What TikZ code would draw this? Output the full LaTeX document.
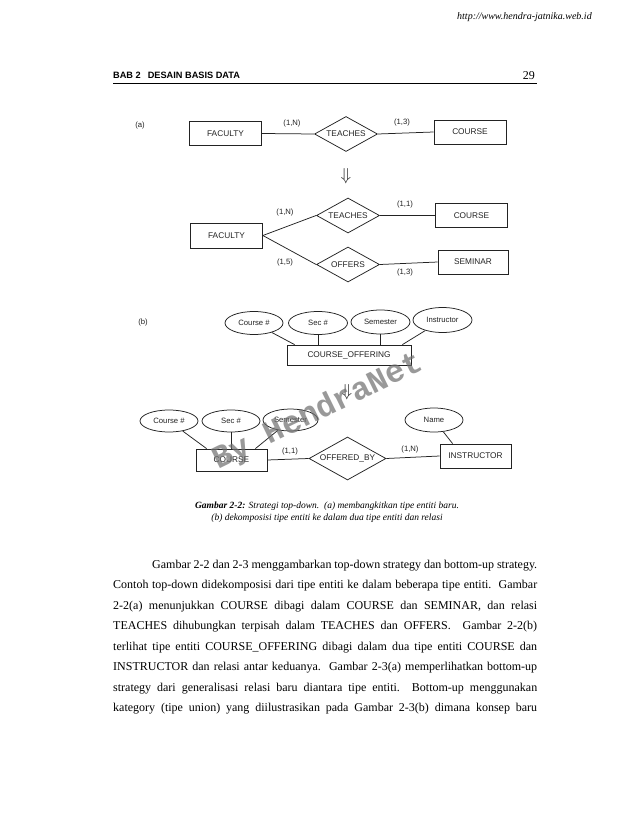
\documentclass[tikz,border=0pt]{standalone}
\usepackage{fontspec}
\setmainfont{Liberation Serif}
\setsansfont{Liberation Sans}
\newfontfamily\markfont{Liberation Mono}
\usetikzlibrary{positioning, calc, shapes.geometric}
\definecolor{inkgray}{RGB}{35,35,35}
\definecolor{markgray}{RGB}{110,110,110}

\begin{document}
\begin{tikzpicture}[
        x=1pt, y=-1pt,
        entity/.style={rectangle, draw=inkgray, line width=0.75pt,
                       minimum width=72pt, minimum height=24pt, inner sep=0pt,
                       font=\sffamily\fontsize{8.3}{9}\selectfont, text=inkgray},
        rel/.style={diamond, aspect=2, draw=inkgray, line width=0.75pt,
                    minimum width=63pt, minimum height=35pt, inner sep=0pt,
                    font=\sffamily\fontsize{8.3}{9}\selectfont, text=inkgray},
        attr/.style={ellipse, draw=inkgray, line width=0.75pt,
                     minimum width=58pt, minimum height=23pt, inner sep=0pt,
                     font=\sffamily\fontsize{7.7}{9}\selectfont, text=inkgray},
        card/.style={font=\sffamily\fontsize{7.7}{9}\selectfont, text=inkgray, inner sep=0pt},
        link/.style={draw=inkgray, line width=0.75pt},
        downsym/.style={inner sep=0pt, text=inkgray, font=\fontsize{19}{19}\selectfont},
        bodyline/.style={anchor=base west, inner sep=0pt, font=\fontsize{12}{14}\selectfont},
        capline/.style={inner sep=0pt, font=\itshape\fontsize{9.5}{11}\selectfont},
    ]
    \useasboundingbox (0,0) rectangle (638,826);
    \fill[white] (0,0) rectangle (638,826);

    % ---- Page header ----
    \node[anchor=base west, inner sep=0pt, font=\itshape\fontsize{10}{12}\selectfont]
        (url) at (457,20) {http://www.hendra-jatnika.web.id};
    \node[anchor=base west, inner sep=0pt, font=\sffamily\bfseries\fontsize{9.2}{11}\selectfont]
        (chapter) at (113,79) {BAB 2\hspace{7pt}DESAIN BASIS DATA};
    \node[anchor=base east, inner sep=0pt, font=\fontsize{12}{14}\selectfont]
        (pagenum) at (535,80) {29};
    \coordinate (ruleL) at (113,83);
    \coordinate (ruleR) at (537,83);
    \draw[line width=0.8pt] (ruleL) -- (ruleR);

    % ---- (a) one relationship ----
    \node[card] (tagA) at (140,126) {(a)};
    \node[entity] (FAC1) at (225.5,133.5) {FACULTY};
    \node[rel] (TEA1) at (346,134) {TEACHES};
    \node[entity] (CRS1) at (470,132) {COURSE};
    \draw[link] (FAC1.east) -- (TEA1.west);
    \draw[link] (TEA1.east) -- (CRS1.west);
    \node[card] (c1) at (292,124) {(1,N)};
    \node[card] (c2) at (402,123) {(1,3)};

    \node[downsym] (DOWN1) at (346,176) {$\Downarrow$};

    % ---- (a) split into two relationships ----
    \node[rel] (TEA2) at (348,215.5) {TEACHES};
    \node[entity] (CRS2) at (471.5,215.5) {COURSE};
    \node[entity, minimum height=25pt] (FAC2) at (226.5,235.5) {FACULTY};
    \node[rel] (OFF) at (348,264.5) {OFFERS};
    \node[entity, minimum width=70pt] (SEM) at (473,262) {SEMINAR};
    \draw[link] (FAC2.east) -- (TEA2.west);
    \draw[link] (FAC2.east) -- (OFF.west);
    \draw[link] (TEA2.east) -- (CRS2.west);
    \draw[link] (OFF.east) -- (SEM.west);
    \node[card] (c3) at (285,213) {(1,N)};
    \node[card] (c4) at (405,205) {(1,1)};
    \node[card] (c5) at (285,263) {(1,5)};
    \node[card] (c6) at (405,273) {(1,3)};

    % ---- (b) COURSE_OFFERING ----
    \node[card] (tagB) at (143,323) {(b)};
    \node[attr] (CNUM1) at (254,323) {Course \#};
    \node[attr, minimum width=59pt] (SEC1) at (318,323) {Sec \#};
    \node[attr, minimum width=59pt, minimum height=24pt] (SMT1) at (380.5,322) {Semester};
    \node[attr, minimum width=59pt, minimum height=25pt] (INS1) at (442.5,320) {Instructor};
    \node[entity, minimum width=124pt, minimum height=20pt] (OFFERING) at (349,355) {COURSE\_OFFERING};
    \draw[link] (CNUM1) -- ([xshift=8pt]OFFERING.north west);
    \draw[link] (SEC1) -- (SEC1 |- OFFERING.north);
    \draw[link] (SMT1) -- (SMT1 |- OFFERING.north);
    \draw[link] (INS1) -- ([xshift=-9pt]OFFERING.north east);

    \node[downsym] (DOWN2) at (347,392) {$\Downarrow$};

    % ---- (b) COURSE -- OFFERED_BY -- INSTRUCTOR ----
    \node[attr, minimum height=22pt] (CNUM2) at (169,421) {Course \#};
    \node[attr, minimum height=22pt] (SEC2) at (231,421) {Sec \#};
    \node[attr, minimum width=55pt, minimum height=22pt] (SMT2) at (290.5,420) {Semester};
    \node[attr, minimum height=24pt] (NAME) at (434,420) {Name};
    \node[entity, minimum width=71pt, minimum height=22pt] (CRS3) at (231.5,460) {COURSE};
    \node[rel, minimum width=77pt, minimum height=43pt] (OBY) at (347.5,458.5) {OFFERED\_BY};
    \node[entity, minimum width=71pt] (INSTR) at (475.5,456) {INSTRUCTOR};
    \draw[link] (CNUM2) -- ([xshift=11pt]CRS3.north west);
    \draw[link] (SEC2) -- (SEC2 |- CRS3.north);
    \draw[link] (SMT2) -- ([xshift=-12pt]CRS3.north east);
    \draw[link] (NAME) -- ([xshift=13pt]INSTR.north west);
    \draw[link] (CRS3.east) -- (OBY.west);
    \draw[link] (OBY.east) -- (INSTR.west);
    \node[card] (c7) at (290,452) {(1,1)};
    \node[card] (c8) at (410,450) {(1,N)};

    % ---- Caption ----
    \node[capline] (cap1) at (327,506)
        {\textbf{Gambar 2-2:} Strategi top-down.\ \ (a) membangkitkan tipe entiti baru.};
    \node[capline] (cap2) at (327,518)
        {(b) dekomposisi tipe entiti ke dalam dua tipe entiti dan relasi};

    % ---- Body text ----
    \node[bodyline] (body1) at (152,568)
        {\makebox[385pt][s]{Gambar 2-2 dan 2-3 menggambarkan top-down strategy dan bottom-up strategy.}};
    \node[bodyline] (body2) at (113,588.5)
        {\makebox[424pt][s]{Contoh top-down didekomposisi dari tipe entiti ke dalam beberapa tipe entiti.\ \ Gambar}};
    \node[bodyline] (body3) at (113,609)
        {\makebox[424pt][s]{2-2(a) menunjukkan COURSE dibagi dalam COURSE dan SEMINAR, dan relasi}};
    \node[bodyline] (body4) at (113,629.5)
        {\makebox[424pt][s]{TEACHES dihubungkan terpisah dalam TEACHES dan OFFERS.\ \ Gambar 2-2(b)}};
    \node[bodyline] (body5) at (113,650)
        {\makebox[424pt][s]{terlihat tipe entiti COURSE\_OFFERING dibagi dalam dua tipe entiti COURSE dan}};
    \node[bodyline] (body6) at (113,670.5)
        {\makebox[424pt][s]{INSTRUCTOR dan relasi antar keduanya.\ \ Gambar 2-3(a) memperlihatkan bottom-up}};
    \node[bodyline] (body7) at (113,691)
        {\makebox[424pt][s]{strategy dari generalisasi relasi baru diantara tipe entiti.\ \ Bottom-up menggunakan}};
    \node[bodyline] (body8) at (113,711.5)
        {\makebox[424pt][s]{kategory (tipe union) yang diilustrasikan pada Gambar 2-3(b) dimana konsep baru}};

    % ---- Watermark ----
    \node[rotate=26, inner sep=0pt, text=markgray, opacity=0.7,
          font=\markfont\bfseries\fontsize{32}{32}\selectfont] (wmark) at (318,412) {By HendraNet};

\end{tikzpicture}
\end{document}
